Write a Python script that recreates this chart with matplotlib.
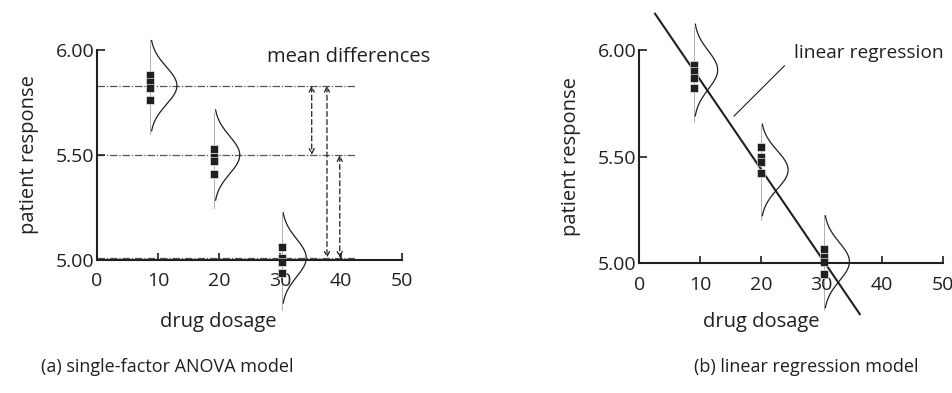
import numpy as np
import matplotlib
matplotlib.use("Agg")
import matplotlib.pyplot as plt

plt.rcParams['font.family'] = ['Open Sans', 'DejaVu Sans']
INK = '#231f20'

# ---------------- data ----------------
x_ticks = [0, 10, 20, 30, 40, 50]
y_ticks = [5.00, 5.50, 6.00]
y_ticklabels = ['5.00', '5.50', '6.00']

# (a) ANOVA panel
a_group_x = [8.7, 19.2, 30.3]
a_points = [[5.88, 5.85, 5.82, 5.76],
            [5.53, 5.49, 5.47, 5.41],
            [5.06, 5.01, 4.99, 4.94]]
a_means = [5.83, 5.50, 5.01]
a_line_lo = [5.60, 5.25, 4.76]
a_line_hi = [6.05, 5.70, 5.22]
a_curve_amp = [4.4, 4.2, 4.0]
mean_line_x = [0, 42.3]
arrow_x = [35.2, 37.7, 39.8]
arrow_from = [5.83, 5.83, 5.50]
arrow_to = [5.50, 5.01, 5.01]

# (b) regression panel
b_group_x = [9.0, 20.0, 30.4]
b_points = [[5.93, 5.90, 5.87, 5.82],
            [5.546, 5.50, 5.476, 5.424],
            [5.064, 5.03, 5.006, 4.948]]
b_curve_mu = [5.906, 5.437, 5.006]
b_line_lo = [5.66, 5.20, 4.78]
b_line_hi = [6.11, 5.65, 5.225]
b_curve_amp = [3.9, 4.5, 4.2]
reg_x = [2.6, 36.3]
reg_y = [6.17, 4.76]
reg_label_line_x = [15.6, 23.9]
reg_label_line_y = [5.69, 5.926]

sigma = 0.09
half = 0.215

FS = 14.5

fig = plt.figure(figsize=(9.53, 3.93), dpi=100)
axA = fig.add_axes([97/953, (393-260)/393, 305/953, 210/393])
axB = fig.add_axes([639.3/953, (393-263)/393, 303.7/953, 213/393])


def style_axes(ax):
    ax.set_xlim(0, 50)
    ax.set_ylim(5.0, 6.0)
    ax.spines['top'].set_visible(False)
    ax.spines['right'].set_visible(False)
    for s in ('left', 'bottom'):
        ax.spines[s].set_linewidth(1.5)
        ax.spines[s].set_color(INK)
        ax.spines[s].set_zorder(5)
    ax.set_xticks(x_ticks)
    ax.set_yticks(y_ticks)
    ax.set_yticklabels(y_ticklabels)
    ax.tick_params(axis='x', direction='in', length=5, width=1.2, color=INK,
                   labelsize=14, labelcolor=INK, pad=9)
    ax.tick_params(axis='y', direction='in', length=6, width=1.2, color=INK,
                   labelsize=14, labelcolor=INK, pad=2)
    ax.patch.set_visible(False)


def gaussian(ax, x0, mu, amp, lo, hi):
    ax.plot([x0, x0], [lo, hi], color='#b0b0b0', lw=0.7, clip_on=False, zorder=1)
    yy = np.linspace(mu - half, mu + half, 200)
    xx = x0 + amp * np.exp(-(yy - mu) ** 2 / (2 * sigma ** 2))
    ax.plot(xx, yy, color=INK, lw=0.9, clip_on=False, zorder=2)


style_axes(axA)
style_axes(axB)

# ---- panel (a) ----
for m in a_means:
    axA.plot(mean_line_x, [m, m], color='#555555', lw=0.9,
             dashes=(6, 1.5, 1, 1.5), clip_on=False, zorder=1)
for gx, pts, m, lo, hi, amp in zip(a_group_x, a_points, a_means, a_line_lo, a_line_hi, a_curve_amp):
    gaussian(axA, gx, m, amp, lo, hi)
    axA.plot([gx] * len(pts), pts, 's', color=INK, ms=5.6, mec='white', mew=0.4,
             clip_on=False, zorder=4)
for ax_x, y0, y1 in zip(arrow_x, arrow_from, arrow_to):
    axA.annotate('', xy=(ax_x, y1), xytext=(ax_x, y0),
                 arrowprops=dict(arrowstyle='<->', color=INK, lw=0.9, ls=(0, (4, 2.5)),
                                 shrinkA=0, shrinkB=0, mutation_scale=9),
                 annotation_clip=False)
axA.text(27.9, 5.965, 'mean differences', fontsize=FS, color=INK, va='center', ha='left')
axA.set_ylabel('patient response', fontsize=FS, color=INK, labelpad=12)

# ---- panel (b) ----
for gx, pts, mu, lo, hi, amp in zip(b_group_x, b_points, b_curve_mu, b_line_lo, b_line_hi, b_curve_amp):
    gaussian(axB, gx, mu, amp, lo, hi)
    axB.plot([gx] * len(pts), pts, 's', color=INK, ms=5.6, mec='white', mew=0.4,
             clip_on=False, zorder=4)
axB.plot(reg_x, reg_y, color=INK, lw=1.5, clip_on=False, zorder=3)
axB.plot(reg_label_line_x, reg_label_line_y, color=INK, lw=0.8, clip_on=False)
axB.text(25.4, 5.985, 'linear regression', fontsize=13.8, color=INK, va='center', ha='left')
axB.set_ylabel('patient response', fontsize=FS, color=INK, labelpad=12)

fig.text(218/953, 1 - 322/393, 'drug dosage', fontsize=FS, color=INK, ha='center', va='center')
fig.text(761/953, 1 - 322/393, 'drug dosage', fontsize=FS, color=INK, ha='center', va='center')
fig.text(167/953, 1 - 367/393, '(a) single-factor ANOVA model', fontsize=13, color=INK,
         ha='center', va='center')
fig.text(806/953, 1 - 367/393, '(b) linear regression model', fontsize=13, color=INK,
         ha='center', va='center')

fig.savefig('out.png', dpi=100)
